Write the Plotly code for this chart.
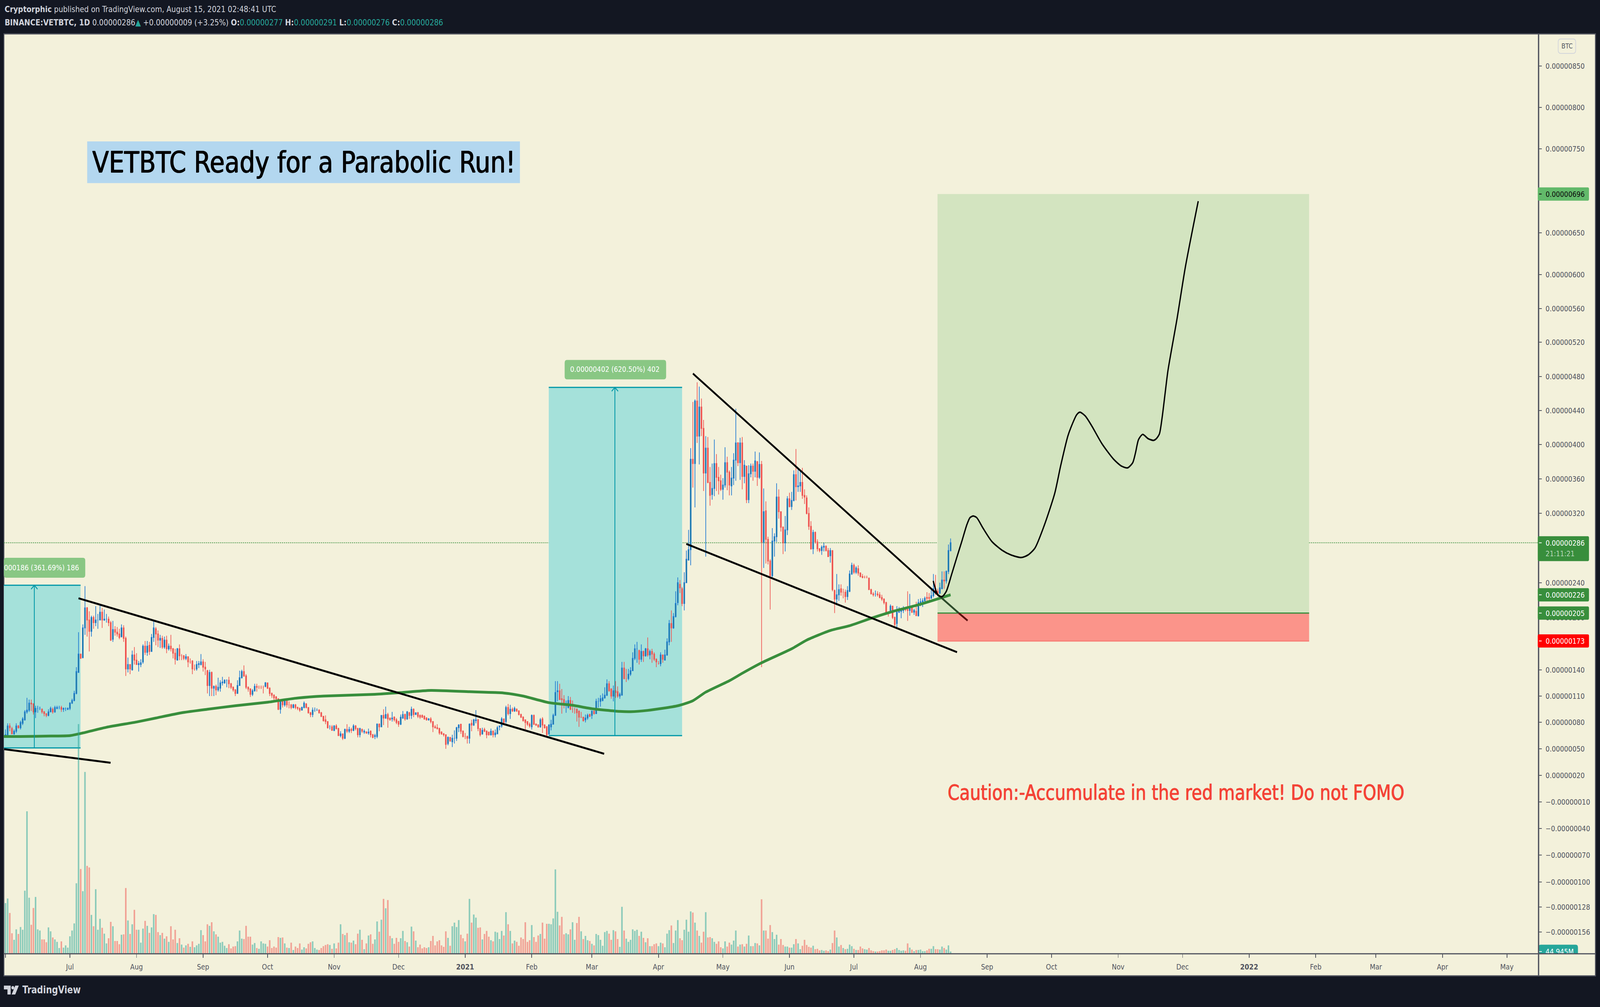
import numpy as np
import pandas as pd
import plotly.graph_objects as go

W, H = 4936, 2578

# ==========================================================
# DATA (prices in units of 0.00000001 BTC)
# ==========================================================
opens = [
    64, 66, 76, 73, 67, 70, 76, 74, 79, 83,
    92, 94, 102, 101, 92, 96, 96, 95, 92, 90,
    88, 92, 95, 92, 96, 97, 97, 95, 96, 95,
    96, 102, 105, 113, 137, 158, 154, 188, 211, 197,
    184, 200, 194, 197, 197, 206, 197, 198, 198, 194,
    175, 186, 183, 181, 178, 188, 176, 141, 146, 140,
    157, 151, 146, 146, 149, 167, 160, 168, 161, 177,
    187, 181, 174, 176, 166, 174, 164, 167, 164, 159,
    151, 164, 156, 156, 153, 155, 149, 150, 141, 141,
    146, 146, 149, 143, 139, 122, 137, 119, 121, 117,
    119, 125, 125, 128, 128, 124, 120, 117, 113, 122,
    131, 138, 133, 120, 118, 112, 116, 121, 120, 120,
    120, 121, 125, 119, 113, 111, 109, 107, 95, 104,
    100, 104, 100, 100, 97, 100, 97, 96, 94, 97,
    101, 97, 91, 89, 94, 94, 94, 91, 87, 83,
    81, 75, 75, 71, 76, 73, 65, 67, 62, 72,
    70, 72, 71, 76, 73, 66, 72, 69, 69, 68,
    70, 66, 64, 64, 78, 75, 88, 85, 89, 85,
    84, 86, 83, 81, 78, 85, 89, 84, 91, 88,
    95, 89, 91, 88, 88, 87, 85, 83, 84, 81,
    75, 74, 73, 69, 67, 66, 56, 63, 58, 62,
    62, 74, 78, 70, 64, 64, 62, 79, 77, 82,
    83, 73, 67, 72, 70, 69, 66, 70, 66, 67,
    75, 76, 84, 81, 97, 90, 95, 93, 95, 93,
    89, 86, 83, 81, 78, 75, 88, 78, 77, 75,
    84, 77, 75, 67, 75, 78, 88, 115, 116, 107,
    106, 103, 97, 105, 95, 95, 95, 93, 86, 86,
    83, 85, 89, 88, 93, 90, 104, 104, 105, 108,
    111, 124, 118, 110, 116, 115, 110, 111, 142, 130,
    130, 135, 139, 153, 164, 162, 152, 161, 156, 164,
    157, 161, 158, 152, 147, 147, 157, 151, 157, 172,
    193, 188, 201, 217, 238, 233, 216, 240, 266, 278,
    383, 378, 451, 410, 444, 419, 367, 396, 356, 342,
    349, 378, 362, 358, 348, 353, 379, 368, 352, 361,
    382, 402, 379, 402, 363, 375, 336, 366, 375, 369,
    380, 362, 377, 287, 323, 290, 265, 248, 288, 293,
    339, 322, 304, 286, 301, 337, 328, 335, 365, 351,
    352, 356, 341, 338, 320, 305, 279, 298, 287, 279,
    277, 281, 282, 277, 271, 277, 231, 221, 226, 233,
    229, 229, 224, 230, 250, 260, 252, 256, 251, 247,
    246, 246, 245, 232, 227, 227, 227, 226, 223, 221,
    217, 206, 207, 213, 200, 193, 206, 207, 208, 210,
    209, 208, 211, 206, 207, 202, 217, 218, 219, 223,
    223, 222, 225, 233, 230, 228, 233, 243, 242, 253,
    277,
]
highs = [
    72, 79, 79, 75, 72, 79, 77, 82, 86, 94,
    108, 106, 106, 102, 99, 99, 98, 96, 93, 90,
    95, 98, 97, 99, 99, 99, 99, 97, 97, 97,
    103, 107, 116, 143, 183, 158, 192, 236, 212, 207,
    202, 202, 213, 204, 215, 211, 209, 204, 201, 196,
    196, 190, 189, 187, 192, 191, 178, 154, 146, 162,
    166, 159, 150, 152, 169, 173, 173, 172, 181, 196,
    189, 185, 180, 179, 178, 179, 170, 180, 165, 164,
    165, 169, 158, 157, 158, 155, 153, 151, 146, 150,
    150, 158, 152, 149, 140, 140, 138, 122, 123, 131,
    128, 132, 129, 129, 132, 125, 121, 118, 128, 139,
    140, 145, 135, 121, 119, 118, 124, 124, 122, 122,
    122, 126, 125, 120, 114, 112, 110, 107, 106, 106,
    105, 105, 104, 101, 101, 101, 98, 97, 98, 104,
    102, 97, 92, 97, 97, 96, 95, 92, 87, 88,
    81, 77, 77, 77, 78, 74, 70, 67, 73, 78,
    75, 74, 78, 77, 74, 74, 73, 72, 70, 73,
    71, 67, 67, 79, 79, 88, 95, 98, 91, 85,
    92, 87, 85, 82, 89, 93, 90, 93, 92, 98,
    96, 91, 92, 89, 89, 88, 86, 85, 86, 81,
    77, 78, 74, 70, 68, 66, 64, 63, 66, 71,
    75, 78, 78, 71, 68, 65, 79, 83, 84, 94,
    84, 73, 74, 74, 71, 69, 73, 71, 72, 76,
    76, 86, 84, 99, 101, 100, 97, 98, 96, 94,
    90, 87, 83, 81, 80, 89, 89, 79, 78, 85,
    86, 78, 76, 78, 83, 90, 127, 127, 124, 118,
    111, 105, 110, 109, 105, 97, 96, 93, 92, 86,
    89, 90, 90, 93, 93, 107, 108, 111, 113, 120,
    129, 127, 119, 122, 127, 121, 114, 149, 149, 141,
    141, 143, 160, 169, 172, 163, 169, 162, 165, 177,
    163, 164, 160, 153, 150, 160, 157, 163, 176, 197,
    208, 205, 230, 246, 243, 235, 252, 277, 301, 396,
    450, 453, 473, 468, 454, 429, 410, 409, 374, 378,
    406, 389, 374, 365, 361, 397, 386, 370, 374, 390,
    442, 403, 408, 409, 382, 375, 376, 378, 378, 392,
    381, 391, 381, 349, 334, 293, 267, 303, 297, 355,
    348, 322, 305, 317, 340, 344, 345, 370, 395, 372,
    370, 373, 348, 341, 327, 311, 301, 299, 290, 280,
    283, 286, 283, 280, 280, 277, 232, 250, 238, 238,
    233, 232, 236, 254, 263, 262, 259, 260, 252, 250,
    248, 248, 246, 233, 229, 231, 230, 229, 226, 222,
    218, 207, 215, 213, 201, 213, 212, 211, 213, 212,
    230, 227, 213, 210, 218, 221, 222, 222, 224, 229,
    228, 234, 250, 249, 233, 240, 253, 253, 254, 284,
    291,
]
lows = [
    63, 65, 70, 67, 66, 68, 73, 72, 77, 82,
    90, 92, 93, 89, 85, 91, 94, 90, 87, 86,
    87, 92, 90, 91, 95, 95, 92, 92, 93, 94,
    94, 101, 104, 112, 137, 153, 153, 180, 178, 161,
    178, 187, 190, 187, 197, 188, 196, 194, 190, 173,
    172, 179, 178, 175, 177, 172, 133, 137, 135, 139,
    146, 146, 138, 143, 147, 157, 156, 157, 161, 172,
    168, 166, 165, 164, 164, 159, 162, 161, 153, 146,
    151, 151, 151, 151, 151, 143, 147, 135, 139, 139,
    142, 145, 138, 134, 113, 110, 110, 110, 111, 115,
    115, 122, 124, 120, 119, 118, 115, 110, 113, 122,
    130, 132, 118, 115, 109, 110, 115, 115, 118, 118,
    113, 120, 118, 110, 108, 105, 104, 94, 90, 97,
    98, 97, 96, 95, 96, 95, 94, 92, 94, 96,
    96, 90, 86, 86, 92, 93, 90, 86, 81, 78,
    73, 72, 71, 70, 72, 65, 63, 60, 61, 68,
    68, 68, 70, 71, 63, 63, 68, 67, 67, 66,
    63, 62, 61, 62, 70, 75, 77, 84, 74, 82,
    81, 81, 78, 75, 77, 84, 82, 83, 84, 84,
    86, 89, 85, 84, 85, 83, 82, 82, 79, 69,
    73, 72, 66, 66, 64, 50, 54, 58, 52, 56,
    59, 69, 67, 63, 61, 56, 56, 70, 76, 79,
    70, 64, 66, 69, 62, 65, 65, 63, 63, 67,
    71, 74, 77, 79, 88, 84, 92, 92, 92, 88,
    85, 81, 71, 76, 74, 72, 77, 76, 74, 74,
    68, 73, 64, 66, 71, 78, 88, 104, 106, 90,
    96, 91, 96, 94, 91, 90, 81, 75, 85, 81,
    80, 83, 86, 84, 89, 90, 97, 98, 104, 107,
    110, 115, 107, 104, 108, 108, 107, 111, 129, 126,
    128, 133, 139, 151, 148, 146, 149, 149, 155, 155,
    152, 148, 150, 143, 146, 144, 148, 151, 156, 168,
    172, 187, 200, 214, 228, 213, 208, 240, 266, 260,
    350, 327, 402, 377, 410, 346, 270, 355, 329, 336,
    340, 346, 342, 346, 336, 350, 347, 341, 341, 353,
    358, 375, 359, 348, 355, 332, 332, 362, 358, 362,
    352, 360, 143, 257, 262, 261, 209, 244, 270, 287,
    314, 299, 273, 276, 295, 327, 324, 334, 335, 345,
    345, 337, 331, 319, 301, 278, 273, 285, 276, 275,
    272, 276, 276, 270, 263, 230, 205, 214, 219, 225,
    222, 217, 220, 229, 249, 250, 250, 248, 246, 245,
    245, 245, 232, 227, 224, 224, 224, 222, 219, 215,
    206, 201, 205, 198, 190, 188, 205, 199, 205, 207,
    196, 202, 205, 203, 202, 201, 213, 212, 218, 219,
    219, 222, 223, 226, 226, 227, 233, 233, 239, 250,
    276,
]
closes = [
    66, 76, 74, 67, 70, 76, 74, 80, 84, 92,
    94, 102, 101, 92, 96, 96, 96, 92, 90, 88,
    92, 96, 92, 97, 97, 97, 95, 96, 96, 96,
    102, 105, 113, 138, 158, 153, 188, 211, 197, 184,
    200, 194, 197, 197, 206, 197, 198, 198, 194, 174,
    186, 183, 181, 177, 188, 176, 141, 146, 141, 157,
    151, 146, 147, 148, 167, 160, 167, 161, 177, 188,
    181, 174, 176, 166, 174, 164, 167, 164, 159, 152,
    164, 156, 156, 153, 155, 149, 149, 141, 141, 146,
    147, 149, 143, 141, 122, 137, 119, 121, 117, 120,
    125, 126, 128, 128, 124, 120, 117, 113, 122, 131,
    138, 133, 120, 118, 112, 116, 121, 120, 120, 120,
    120, 125, 119, 113, 111, 108, 107, 95, 104, 100,
    104, 100, 100, 97, 100, 97, 96, 94, 97, 102,
    97, 91, 89, 94, 94, 94, 91, 87, 82, 81,
    74, 75, 71, 76, 73, 65, 67, 62, 72, 70,
    72, 71, 76, 73, 66, 73, 70, 70, 68, 69,
    66, 63, 65, 78, 75, 88, 85, 89, 84, 83,
    85, 83, 80, 78, 86, 89, 84, 92, 88, 95,
    89, 91, 87, 86, 86, 84, 83, 84, 81, 75,
    74, 73, 68, 67, 66, 55, 63, 59, 62, 62,
    74, 77, 70, 64, 64, 62, 78, 77, 83, 83,
    73, 66, 71, 70, 66, 66, 70, 66, 68, 74,
    76, 84, 80, 97, 90, 95, 93, 96, 93, 89,
    86, 82, 80, 78, 76, 88, 78, 77, 75, 83,
    77, 74, 66, 77, 78, 88, 114, 116, 106, 106,
    102, 103, 105, 95, 95, 95, 91, 86, 86, 82,
    85, 88, 87, 93, 90, 104, 104, 107, 108, 111,
    124, 116, 110, 116, 114, 110, 112, 142, 130, 130,
    135, 139, 153, 164, 164, 152, 161, 156, 164, 157,
    161, 158, 152, 149, 147, 157, 152, 157, 172, 193,
    188, 201, 216, 240, 234, 216, 240, 267, 278, 383,
    378, 451, 410, 444, 419, 367, 396, 356, 341, 349,
    378, 362, 358, 348, 353, 379, 368, 353, 361, 382,
    402, 379, 402, 363, 376, 336, 366, 375, 369, 381,
    362, 377, 287, 322, 290, 265, 248, 288, 293, 339,
    322, 304, 286, 301, 337, 328, 335, 365, 351, 352,
    356, 341, 339, 320, 305, 279, 298, 287, 279, 277,
    281, 282, 277, 270, 277, 232, 221, 226, 232, 229,
    229, 224, 231, 250, 260, 252, 257, 251, 247, 246,
    246, 246, 232, 227, 226, 227, 226, 223, 221, 217,
    206, 206, 213, 200, 192, 206, 207, 208, 209, 209,
    208, 210, 206, 208, 202, 217, 218, 219, 222, 222,
    222, 225, 233, 228, 228, 234, 243, 242, 253, 277,
    286,
]
# bar heights, relative units (16 is the last bar, 44.945M)
volumes = [
    385, 420, 310, 155, 105, 185, 150, 203, 182, 480,
    1085, 426, 220, 348, 432, 185, 176, 108, 108, 87,
    200, 170, 123, 108, 90, 43, 93, 46, 63, 46,
    132, 176, 230, 536, 1750, 645, 476, 1385, 669, 657,
    295, 209, 491, 182, 265, 197, 152, 78, 117, 242,
    209, 96, 96, 72, 144, 147, 500, 253, 150, 224,
    334, 182, 182, 84, 191, 250, 212, 158, 200, 301,
    295, 164, 141, 158, 114, 132, 90, 209, 108, 182,
    81, 117, 69, 46, 63, 75, 52, 93, 49, 63,
    75, 179, 141, 93, 224, 212, 239, 170, 147, 129,
    84, 90, 60, 43, 72, 40, 54, 57, 93, 176,
    114, 111, 212, 129, 129, 69, 81, 43, 37, 93,
    78, 75, 54, 102, 43, 54, 46, 126, 120, 123,
    78, 46, 43, 84, 28, 54, 43, 78, 31, 49,
    40, 75, 87, 93, 43, 31, 28, 43, 57, 66,
    72, 66, 37, 78, 40, 84, 224, 150, 141, 158,
    87, 84, 99, 72, 152, 182, 105, 34, 78, 138,
    147, 75, 108, 245, 167, 259, 417, 346, 408, 135,
    117, 75, 120, 90, 117, 173, 96, 87, 54, 206,
    170, 99, 49, 69, 40, 49, 43, 49, 96, 135,
    63, 93, 102, 63, 52, 170, 120, 60, 209, 236,
    203, 256, 144, 117, 93, 152, 417, 236, 298, 274,
    197, 200, 108, 150, 173, 129, 102, 93, 167, 161,
    111, 173, 138, 316, 224, 173, 78, 99, 90, 60,
    123, 111, 239, 90, 102, 218, 126, 90, 138, 150,
    236, 114, 227, 227, 224, 268, 642, 319, 215, 280,
    147, 155, 147, 185, 239, 105, 233, 280, 170, 111,
    135, 102, 96, 75, 63, 150, 141, 105, 60, 164,
    173, 152, 105, 179, 170, 111, 52, 357, 176, 114,
    90, 105, 185, 173, 182, 135, 167, 120, 87, 117,
    57, 57, 72, 78, 57, 84, 78, 49, 152, 179,
    215, 81, 176, 256, 117, 102, 182, 259, 167, 322,
    313, 236, 176, 135, 84, 167, 316, 123, 126, 117,
    90, 75, 93, 49, 40, 93, 54, 84, 69, 99,
    176, 54, 69, 72, 54, 75, 138, 57, 57, 81,
    78, 63, 414, 176, 176, 114, 218, 164, 111, 144,
    69, 111, 66, 54, 54, 46, 46, 72, 111, 78,
    34, 60, 105, 66, 52, 46, 60, 34, 37, 25,
    28, 22, 25, 19, 31, 81, 176, 123, 54, 66,
    43, 34, 37, 69, 57, 37, 28, 28, 54, 40,
    34, 31, 43, 25, 19, 16, 16, 19, 25, 25,
    31, 22, 22, 28, 34, 43, 28, 22, 25, 22,
    78, 46, 31, 19, 28, 28, 31, 19, 19, 25,
    37, 37, 57, 34, 34, 31, 54, 43, 31, 63,
    16,
]

ma_dates = [
    "2020-05-31", "2020-06-08", "2020-06-22", "2020-07-01", "2020-07-07", "2020-07-18",
    "2020-08-01", "2020-08-10", "2020-08-22", "2020-09-03", "2020-09-16", "2020-10-01",
    "2020-10-14", "2020-10-27", "2020-11-20", "2020-12-02", "2020-12-16", "2021-01-03",
    "2021-01-19", "2021-01-28", "2021-02-09", "2021-02-20", "2021-03-01", "2021-03-14",
    "2021-03-19", "2021-03-27", "2021-04-10", "2021-04-17", "2021-04-23", "2021-05-04",
    "2021-05-10", "2021-05-19", "2021-06-02", "2021-06-09", "2021-06-20", "2021-06-29",
    "2021-07-09", "2021-07-20", "2021-07-31", "2021-08-15",
]
ma_values = [
    64, 64, 64.5, 65, 68, 74.5,
    80.5, 85, 91, 95, 99, 103,
    107.5, 110, 112, 114, 116.5, 115,
    113.5, 110, 102.5, 99.5, 95.6, 92.5,
    92.2, 93.7, 99, 104.7, 114.5, 127.5,
    136, 148, 164, 174, 185, 190.5,
    199, 207.5, 214.5, 226,
]

forecast_dates = [
    "2021-08-06 22:00", "2021-08-09 02:00", "2021-08-11 02:00", "2021-08-13 00:00", "2021-08-15 10:00",
    "2021-08-17 19:00", "2021-08-20 05:00", "2021-08-22 14:00", "2021-08-24 00:00", "2021-08-25 12:00",
    "2021-08-27 05:00", "2021-08-30 02:00", "2021-09-03 05:00", "2021-09-07 22:00", "2021-09-12 02:00",
    "2021-09-16 22:00", "2021-09-20 02:00", "2021-09-23 07:00", "2021-09-27 14:00", "2021-10-02 12:00",
    "2021-10-05 05:00", "2021-10-08 14:00", "2021-10-10 00:00", "2021-10-12 17:00", "2021-10-14 05:00",
    "2021-10-16 17:00", "2021-10-19 17:00", "2021-10-24 12:00", "2021-10-29 22:00", "2021-11-02 14:00",
    "2021-11-05 10:00", "2021-11-07 19:00", "2021-11-09 02:00", "2021-11-10 12:00", "2021-11-12 10:00",
    "2021-11-15 00:00", "2021-11-17 12:00", "2021-11-18 19:00", "2021-11-20 05:00", "2021-11-21 12:00",
    "2021-11-22 22:00", "2021-11-24 05:00", "2021-11-28 12:00", "2021-12-02 07:00", "2021-12-08 07:00",
]
forecast_values = [
    242, 225.6, 224, 230, 249,
    268.3, 287.5, 307, 315, 317,
    315, 303, 287.5, 277.5, 272,
    269, 272, 280, 306, 343.5,
    375, 410, 420, 435, 438,
    433.5, 422, 401, 383, 375,
    373, 379, 390.5, 406, 412,
    407, 405, 407, 412.5, 432,
    461, 487, 549, 609, 687.5,
]

# trend lines: (dates, prices)
line_a = (["2020-07-05 00:00", "2021-03-06 17:00"], [222, 44.4])
line_b = (["2020-05-31 10:00", "2020-07-19 22:00"], [49.6, 34.2])
wedge_low = (["2021-04-13 23:00", "2021-08-18 00:00"], [284.7, 160.1])
wedge_top_dates = ["2021-04-17 01:00", "2021-08-08 22:00", "2021-08-18 19:00", "2021-08-22 22:00"]
wedge_top_values = [483.3, 226.5, 205, 196.4]

price_ticks = [850, 800, 750, 650, 600, 560, 520, 480, 440, 400, 360, 320, 240, 200,
               140, 110, 80, 50, 20, -10, -40, -70, -100, -128, -156]
month_ticks = ["2020-06-01", "2020-07-01", "2020-08-01", "2020-09-01", "2020-10-01", "2020-11-01",
               "2020-12-01", "2021-01-01", "2021-02-01", "2021-03-01", "2021-04-01", "2021-05-01",
               "2021-06-01", "2021-07-01", "2021-08-01", "2021-09-01", "2021-10-01", "2021-11-01",
               "2021-12-01", "2022-01-01", "2022-02-01", "2022-03-01", "2022-04-01", "2022-05-01"]
month_labels = ["Jun", "Jul", "Aug", "Sep", "Oct", "Nov", "Dec", "<b>2021</b>", "Feb", "Mar", "Apr", "May",
                "Jun", "Jul", "Aug", "Sep", "Oct", "Nov", "Dec", "<b>2022</b>", "Feb", "Mar", "Apr", "May"]

# ==========================================================
# COLOURS / SCALE
# ==========================================================
DARK = "#131722"
CREAM = "#F3F1DB"
AXIS = "#50535E"
TEXT = "#D1D4DC"
TEAL = "#0097A7"
TEAL_FILL = "#A5E1DA"
GREEN = "#388E3C"
FONT = "DejaVu Sans"

# the TradingView price scale is a log scale with an offset
LOG_OFFSET = 12070
PRICE_RANGE = [4.075178, 4.112565]
AXIS_PX = (2448, 87)


def to_axis(values):
    return [v + LOG_OFFSET for v in values]


def price_px(v):
    return 169.4 + (4.11126 - np.log10(v + LOG_OFFSET)) * 63151


def fx(px):
    return px / W


def fy(px):
    return 1 - px / H


def round_box(x0, y0, x1, y1, r=7):
    # rounded rectangle, pixel corners, as a paper-space path
    pts = (f"M{fx(x0 + r)} {fy(y0)} L{fx(x1 - r)} {fy(y0)} Q{fx(x1)} {fy(y0)} {fx(x1)} {fy(y0 + r)} "
           f"L{fx(x1)} {fy(y1 - r)} Q{fx(x1)} {fy(y1)} {fx(x1 - r)} {fy(y1)} "
           f"L{fx(x0 + r)} {fy(y1)} Q{fx(x0)} {fy(y1)} {fx(x0)} {fy(y1 - r)} "
           f"L{fx(x0)} {fy(y0 + r)} Q{fx(x0)} {fy(y0)} {fx(x0 + r)} {fy(y0)} Z")
    return pts


dates = pd.date_range("2020-06-01", periods=len(closes))
vol_colors = ["rgba(239,83,80,0.5)" if c < o else "rgba(38,166,154,0.5)" for o, c in zip(opens, closes)]

fig = go.Figure()

# ==========================================================
# TRACES
# ==========================================================
fig.add_trace(go.Candlestick(
    x=dates, open=to_axis(opens), high=to_axis(highs), low=to_axis(lows), close=to_axis(closes),
    increasing=dict(line=dict(color="#1976D2", width=2), fillcolor=GREEN),
    decreasing=dict(line=dict(color="#EF5350", width=2), fillcolor="#EF5350"),
    whiskerwidth=0, showlegend=False, yaxis="y",
))

fig.add_trace(go.Scatter(x=ma_dates, y=to_axis(ma_values), mode="lines",
                         line=dict(color=GREEN, width=7, shape="spline", smoothing=0.6), showlegend=False))

for line in (line_a, line_b, wedge_low):
    fig.add_trace(go.Scatter(x=line[0], y=to_axis(line[1]), mode="lines",
                             line=dict(color="black", width=5), showlegend=False))

# top wedge line is tinted where the long position box sits over it
for i, col in enumerate(["black", "#2C4A2A", "#5C0D0D"]):
    fig.add_trace(go.Scatter(x=wedge_top_dates[i:i + 2], y=to_axis(wedge_top_values[i:i + 2]), mode="lines",
                             line=dict(color=col, width=5), showlegend=False))

fig.add_trace(go.Scatter(x=forecast_dates, y=to_axis(forecast_values), mode="lines",
                         line=dict(color="black", width=4, shape="spline", smoothing=0.7), showlegend=False))

# measure arrows
for ax_date, lo, hi, head_l, head_r in [("2020-06-14 10:00", 51, 237, "2020-06-12 22:00", "2020-06-15 22:00"),
                                        ("2021-03-11 17:00", 65, 467, "2021-03-10 05:00", "2021-03-13 05:00")]:
    fig.add_trace(go.Scatter(x=[ax_date, ax_date], y=to_axis([lo, hi]), mode="lines",
                             line=dict(color=TEAL, width=2.5), showlegend=False))
    fig.add_trace(go.Scatter(x=[head_l, ax_date, head_r], y=to_axis([hi - 4.5, hi, hi - 4.5]), mode="lines",
                             line=dict(color=TEAL, width=2.5), showlegend=False))

fig.add_trace(go.Scatter(x=["2020-06-14 10:00", "2021-03-11 17:00"], y=to_axis([256.7, 487.6]), mode="text",
                         text=["0.00000186 (361.69%) 186", "0.00000402 (620.50%) 402"],
                         textposition="middle center", textfont=dict(family=FONT, size=20, color="white"),
                         showlegend=False))

# volume on its own overlaid axis
fig.add_trace(go.Bar(x=dates, y=volumes, marker=dict(color=vol_colors, line=dict(width=0)), yaxis="y2",
                     showlegend=False))

# ==========================================================
# SHAPES
# ==========================================================
shapes = []
# chart frame
shapes.append(dict(type="rect", xref="paper", yref="paper", x0=fx(12), x1=fx(4922), y0=fy(87), y1=fy(2505),
                   fillcolor=CREAM, line=dict(color=AXIS, width=3), layer="below"))


def data_rect(x0, x1, lo, hi, fill, top=None, bottom=None):
    shapes.append(dict(type="rect", xref="x", yref="y", x0=x0, x1=x1, y0=lo + LOG_OFFSET, y1=hi + LOG_OFFSET,
                       fillcolor=fill, line=dict(width=0), layer="below"))
    for y, col in ((hi, top), (lo, bottom)):
        if col:
            shapes.append(dict(type="line", xref="x", yref="y", x0=x0, x1=x1, y0=y + LOG_OFFSET, y1=y + LOG_OFFSET,
                               line=dict(color=col, width=3), layer="below"))


data_rect("2020-05-20", "2020-07-05 23:00", 51, 237, TEAL_FILL, TEAL, TEAL)
data_rect("2021-02-08 22:00", "2021-04-12 00:00", 65, 467, TEAL_FILL, TEAL, TEAL)
data_rect("2021-08-08 22:00", "2022-01-28 22:00", 205, 696, "#D3E4C0", None, None)
data_rect("2021-08-08 22:00", "2022-01-28 22:00", 173, 205, "#FB948A", GREEN, "#F77F76")

# last price line
shapes.append(dict(type="line", xref="paper", yref="y", x0=fx(12), x1=fx(4746), y0=286 + LOG_OFFSET, y1=286 + LOG_OFFSET,
                   line=dict(color=GREEN, width=2, dash="dot"), layer="below"))

# measure labels and title box
shapes.append(dict(type="path", xref="paper", yref="paper", path=round_box(12, 1432, 263, 1483),
                   fillcolor="#89C784", line=dict(width=0), layer="below"))
shapes.append(dict(type="path", xref="paper", yref="paper", path=round_box(1742, 924, 2055, 974),
                   fillcolor="#89C784", line=dict(width=0), layer="below"))
shapes.append(dict(type="rect", xref="paper", yref="paper", x0=fx(269), x1=fx(1604), y0=fy(363), y1=fy(470),
                   fillcolor="#B3D7EF", line=dict(width=0), layer="below"))

# volume tag goes under the tick label, which is then cut by the cover
shapes.append(dict(type="path", xref="paper", yref="paper", path=round_box(4746, 2425, 4868, 2460),
                   fillcolor="#26A69A", line=dict(width=0), layer="below"))
shapes.append(dict(type="rect", xref="paper", yref="paper", x0=fx(4748), x1=fx(4920), y0=fy(2449), y1=fy(2503),
                   fillcolor=CREAM, line=dict(width=0), layer="above"))
shapes.append(dict(type="rect", xref="paper", yref="paper", x0=0, x1=fx(10.5), y0=fy(80), y1=fy(2510),
                   fillcolor=DARK, line=dict(width=0), layer="above"))

# axis separators
shapes.append(dict(type="line", xref="paper", yref="paper", x0=fx(4746.5), x1=fx(4746.5), y0=fy(87), y1=fy(2505),
                   line=dict(color=AXIS, width=4), layer="above"))
shapes.append(dict(type="line", xref="paper", yref="paper", x0=fx(12), x1=fx(4922), y0=fy(2448.5), y1=fy(2448.5),
                   line=dict(color=AXIS, width=3), layer="above"))

# price tags on the axis
tag_prices = [696, 286, 226, 205, 173]
tag_colors = ["#62B96A", GREEN, GREEN, GREEN, "#FF0000"]
tag_text_colors = ["#0B0B0B", "white", "white", "white", "white"]
tag_extra = [0, 30, 0, 0, 0]
annotations = []
for p, col, tcol, extra in zip(tag_prices, tag_colors, tag_text_colors, tag_extra):
    y = price_px(p)
    shapes.append(dict(type="path", xref="paper", yref="paper", path=round_box(4744, y - 17, 4902, y + 17 + extra, 4),
                       fillcolor=col, line=dict(width=0), layer="above"))
    shapes.append(dict(type="line", xref="paper", yref="paper", x0=fx(4748), x1=fx(4756), y0=fy(y), y1=fy(y),
                       line=dict(color=tcol, width=2), layer="above"))
    annotations.append(dict(xref="paper", yref="paper", x=fx(4766), y=fy(y), xanchor="left", yanchor="middle",
                            text=f"0.{p:08d}", showarrow=False, font=dict(family=FONT, size=20, color=tcol)))
annotations.append(dict(xref="paper", yref="paper", x=fx(4766), y=fy(1421), xanchor="left", yanchor="middle",
                        text="21:11:21", showarrow=False, font=dict(family=FONT, size=20, color="#BAD8BB")))

# BTC badge
shapes.append(dict(type="path", xref="paper", yref="paper", path=round_box(4807, 100, 4861, 137, 8),
                   fillcolor=CREAM, line=dict(color=TEXT, width=2), layer="above"))
annotations.append(dict(xref="paper", yref="paper", x=fx(4834), y=fy(118), xanchor="center", yanchor="middle",
                        text="BTC", showarrow=False, font=dict(family=FONT, size=18, color=AXIS)))

# TradingView logo mark
shapes.append(dict(type="path", xref="paper", yref="paper", line=dict(width=0), fillcolor=TEXT, layer="above",
                   path=(f"M{fx(12)} {fy(2530)} L{fx(33)} {fy(2530)} L{fx(33)} {fy(2553)} L{fx(23)} {fy(2553)} "
                         f"L{fx(23)} {fy(2540)} L{fx(12)} {fy(2540)} Z")))
shapes.append(dict(type="circle", xref="paper", yref="paper", x0=fx(35), x1=fx(44), y0=fy(2531), y1=fy(2540),
                   fillcolor=TEXT, line=dict(width=0), layer="above"))
shapes.append(dict(type="path", xref="paper", yref="paper", line=dict(width=0), fillcolor=TEXT, layer="above",
                   path=(f"M{fx(47)} {fy(2530)} L{fx(58)} {fy(2530)} L{fx(47)} {fy(2553)} L{fx(36)} {fy(2553)} Z")))

# ==========================================================
# TEXT
# ==========================================================
green_txt = "#26A69A"
annotations += [
    dict(xref="paper", yref="paper", x=fx(12), y=fy(24), xanchor="left", yanchor="middle", showarrow=False,
         font=dict(family=FONT, size=22, color=TEXT),
         text="<b>Cryptorphic</b> published on TradingView.com, August 15, 2021 02:48:41 UTC"),
    dict(xref="paper", yref="paper", x=fx(12), y=fy(58), xanchor="left", yanchor="middle", showarrow=False,
         font=dict(family=FONT, size=22, color=TEXT),
         text=(f"<b>BINANCE:VETBTC, 1D</b> 0.00000286<span style='color:{green_txt}'>▲</span> +0.00000009 (+3.25%) "
               f"<b>O:</b><span style='color:{green_txt}'>0.00000277</span> "
               f"<b>H:</b><span style='color:{green_txt}'>0.00000291</span> "
               f"<b>L:</b><span style='color:{green_txt}'>0.00000276</span> "
               f"<b>C:</b><span style='color:{green_txt}'>0.00000286</span>")),
    dict(xref="paper", yref="paper", x=fx(936.5), y=fy(416), xanchor="center", yanchor="middle", showarrow=False,
         font=dict(family=FONT, size=75, color="black", shadow="1.5px 0 0 black, 0 1px 0 black"),
         text="VETBTC Ready for a Parabolic Run!"),
    dict(xref="paper", yref="paper", x=fx(2921), y=fy(2034), xanchor="left", yanchor="middle", showarrow=False,
         font=dict(family=FONT, size=52.5, color="#F44336", shadow="1px 0 0 #F44336, 0 1px 0 #F44336"),
         text="Caution:-Accumulate in the red market! Do not FOMO"),
    dict(xref="paper", yref="paper", x=fx(67), y=fy(2541), xanchor="left", yanchor="middle", showarrow=False,
         font=dict(family=FONT, size=26, color=TEXT), text="<b>TradingView</b>"),
]

# ==========================================================
# LAYOUT
# ==========================================================
fig.update_layout(
    width=W, height=H,
    margin=dict(l=0, r=0, t=0, b=0),
    paper_bgcolor=DARK,
    plot_bgcolor="rgba(0,0,0,0)",
    showlegend=False,
    boxgap=0.4,
    bargap=0.28,
    shapes=shapes,
    annotations=annotations,
    xaxis=dict(
        type="date",
        domain=[fx(12), fx(4746)],
        range=["2020-05-31 06:00", "2022-05-15 16:00"],
        rangeslider=dict(visible=False),
        showgrid=False, zeroline=False,
        tickmode="array", tickvals=month_ticks, ticktext=month_labels,
        ticks="outside", ticklen=10, tickwidth=2, tickcolor=AXIS,
        tickfont=dict(family=FONT, size=20, color=AXIS),
        ticklabelstandoff=6,
        showline=False,
    ),
    yaxis=dict(
        type="log",
        domain=[fy(AXIS_PX[0]), fy(AXIS_PX[1])],
        range=PRICE_RANGE,
        side="right",
        showgrid=False, zeroline=False, showline=False,
        tickmode="array",
        tickvals=to_axis(price_ticks),
        ticktext=[(f"0.{t:08d}" if t >= 0 else f"\u22120.{-t:08d}") for t in price_ticks],
        ticks="outside", ticklen=9, tickwidth=2, tickcolor=AXIS,
        tickfont=dict(family=FONT, size=20, color=AXIS),
        ticklabelstandoff=8,
    ),
    yaxis2=dict(
        overlaying="y", side="right", anchor="x",
        range=[0, 7012],
        showgrid=False, zeroline=False, showline=False,
        tickmode="array", tickvals=[16], ticktext=["44.945M"],
        ticks="outside", ticklen=9, tickwidth=2, tickcolor="white",
        tickfont=dict(family=FONT, size=20, color="white"),
        ticklabelstandoff=8,
    ),
)

# the browser may give a narrower window than the figure: squeeze the page to fit it
fit_page = """
document.body.style.margin = '0';
document.body.style.overflow = 'hidden';
document.body.style.background = '#131722';
var gd = document.querySelector('.plotly-graph-div');
gd.style.transformOrigin = '0 0';
gd.style.transform = 'scaleX(' + Math.min(1, window.innerWidth / 4936) + ')';
"""
fig.write_html("out.html", config=dict(displayModeBar=False), post_script=fit_page)
